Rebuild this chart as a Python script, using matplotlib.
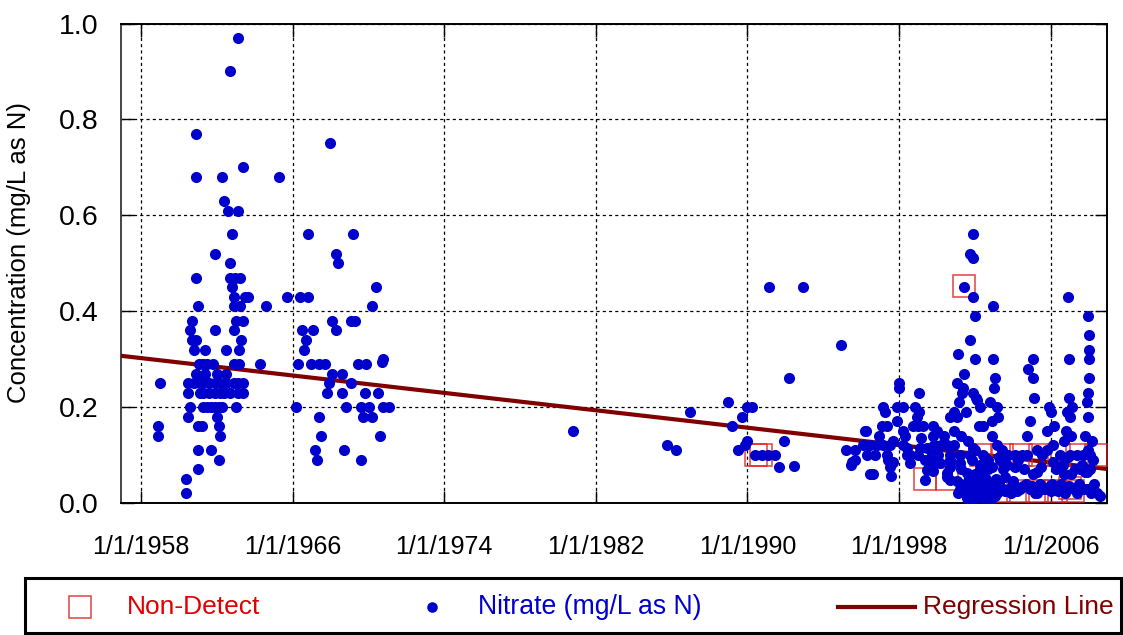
import matplotlib
matplotlib.use('Agg')
import matplotlib.pyplot as plt
from matplotlib.lines import Line2D
from matplotlib.patches import Rectangle

# ---------------- data (decimal year, mg/L as N) ----------------
early_years = [
    1963.1, 1962.7, 1960.9, 1968.0, 1963.4,
    1960.9, 1962.3, 1965.3, 1962.4, 1962.6, 1963.1,
    1962.8, 1966.8, 1969.2, 1961.9, 1968.3, 1962.7, 1968.4,
    1960.9, 1962.7, 1962.95, 1963.25, 1962.8, 1970.4,
    1962.9, 1963.5, 1963.65, 1965.7, 1966.4, 1966.8,
    1961.0, 1962.9, 1963.25, 1964.6, 1970.2,
    1960.7, 1963.0, 1963.4, 1968.1, 1969.1, 1969.3,
    1960.6, 1961.9, 1962.9, 1966.5, 1967.1, 1968.3,
    1960.7, 1960.9, 1963.3, 1966.7,
    1960.8, 1961.4, 1962.5, 1963.2, 1966.6,
    1970.8, 1970.7,
    1961.05, 1961.3, 1961.5, 1961.8, 1962.9, 1963.2, 1964.3, 1966.3, 1967.0,
    1967.4, 1967.7, 1969.45, 1969.9,
    1960.9, 1961.4, 1962.0, 1962.5, 1968.1, 1968.6,
    1959.0, 1960.5, 1960.8, 1961.1, 1961.3, 1961.6, 1961.9, 1962.2, 1962.5,
    1962.9, 1963.1, 1963.4, 1967.9, 1969.1,
    1960.5, 1961.1, 1961.3, 1961.6, 1961.9, 1962.2, 1962.4, 1962.7, 1963.1,
    1963.4, 1967.8, 1968.6, 1969.8, 1970.5,
    1960.6, 1961.3, 1961.5, 1961.7, 1961.9, 1962.1, 1962.3, 1963.0, 1966.2,
    1968.8, 1969.6, 1970.05, 1970.75, 1971.1,
    1960.5, 1962.0, 1967.4, 1969.7, 1970.2,
    1958.9, 1961.0, 1961.2, 1962.1,
    1958.9, 1962.2, 1967.5, 1970.6,
    1961.0, 1961.7, 1967.2, 1968.7,
    1962.1, 1967.3, 1969.6,
    1961.0, 1960.4, 1960.4,
]
early_values = [
    0.97, 0.90, 0.77, 0.75, 0.70,
    0.68, 0.68, 0.68, 0.63, 0.61, 0.61,
    0.56, 0.56, 0.56, 0.52, 0.52, 0.50, 0.50,
    0.47, 0.47, 0.47, 0.47, 0.45, 0.45,
    0.43, 0.43, 0.43, 0.43, 0.43, 0.43,
    0.41, 0.41, 0.41, 0.41, 0.41,
    0.38, 0.38, 0.38, 0.38, 0.38, 0.38,
    0.36, 0.36, 0.36, 0.36, 0.36, 0.36,
    0.34, 0.34, 0.34, 0.34,
    0.32, 0.32, 0.32, 0.32, 0.32,
    0.30, 0.295,
    0.29, 0.29, 0.29, 0.29, 0.29, 0.29, 0.29, 0.29, 0.29,
    0.29, 0.29, 0.29, 0.29,
    0.27, 0.27, 0.27, 0.27, 0.27, 0.27,
    0.25, 0.25, 0.25, 0.25, 0.25, 0.25, 0.25, 0.25, 0.25,
    0.25, 0.25, 0.25, 0.25, 0.25,
    0.23, 0.23, 0.23, 0.23, 0.23, 0.23, 0.23, 0.23, 0.23,
    0.23, 0.23, 0.23, 0.23, 0.23,
    0.20, 0.20, 0.20, 0.20, 0.20, 0.20, 0.20, 0.20, 0.20,
    0.20, 0.20, 0.20, 0.20, 0.20,
    0.18, 0.18, 0.18, 0.18, 0.18,
    0.16, 0.16, 0.16, 0.16,
    0.14, 0.14, 0.14, 0.14,
    0.11, 0.11, 0.11, 0.11,
    0.09, 0.09, 0.09,
    0.07, 0.05, 0.02,
]

mid_years = [
    1980.81, 1985.77, 1986.25, 1986.98,
    1988.97, 1989.97, 1990.24, 1989.73, 1989.2, 1989.97, 1989.5, 1989.88,
    1990.4, 1990.77, 1991.1, 1991.46, 1991.96, 1991.68, 1992.48,
    1991.17, 1992.96, 1994.95, 1992.19,
    1995.2, 1995.7, 1995.46, 1996.25,
]
mid_values = [
    0.15, 0.12, 0.11, 0.19,
    0.21, 0.20, 0.20, 0.18, 0.16, 0.13, 0.11, 0.12,
    0.10, 0.10, 0.10, 0.10, 0.13, 0.075, 0.077,
    0.45, 0.45, 0.33, 0.26,
    0.11, 0.09, 0.08, 0.15,
]

late_years = [
    # upper scatter
    2001.93, 2001.76, 2001.9, 2001.44, 2001.93, 2002.99, 2002.02, 2006.94, 2008.0,
    2008.05, 2001.76, 2001.14, 2002.02, 2001.46, 1998.01, 1998.0, 2001.09, 1999.07,
    2001.32, 2001.93, 2001.16, 2001.4, 2002.06, 2002.95, 2003.05, 2003.0, 2004.8,
    2005.05, 2005.1, 2005.15, 2006.95, 2006.95, 2008.05, 2008.05, 2008.05, 2008.0,
    2007.95,
    # middle band
    1997.18, 1997.89, 1998.19, 1998.86, 1997.26, 1998.94, 1999.08, 2000.88, 2001.53,
    1997.89, 2000.7, 2001.06, 1999.03, 1999.29, 1998.76, 1997.1, 1997.36, 1996.22,
    1998.2, 1999.8, 2000.0, 2000.4, 2000.9, 2001.3, 1996.97, 1997.7, 1998.33,
    1999.16, 1999.8, 2001.67,
    2002.11, 2002.28, 2002.81, 2003.17, 2005.93, 2006.0, 2006.86, 2007.12, 2007.03,
    2007.97, 2002.9, 2003.25, 2004.94, 2002.2, 2002.46, 2005.8, 2006.19, 2006.81,
    2002.9, 2004.77, 2006.73, 2007.09, 2007.83, 2008.18,
    # lower band
    1996.13, 1996.48, 1996.83, 1997.18, 1997.53, 1998.24, 1998.42, 1999.12, 1999.47,
    1999.84, 2000.2, 2000.55, 2000.9, 2001.93,
    1995.69, 1996.3, 1996.74, 1997.36, 1998.42, 1998.6, 1999.03, 1999.74, 2000.08,
    2000.7, 2001.23, 2001.76,
    1995.51, 1997.45, 1997.63, 1998.59, 1999.38, 1999.82, 2000.17, 2000.7,
    2001.23, 2001.85,
    2002.02, 2002.46, 2003.17, 2003.43, 2003.78, 2004.13, 2004.49, 2004.75, 2005.28,
    2005.54, 2005.8, 2006.15, 2006.5, 2007.03, 2007.39, 2008.0, 2008.26,
    2002.7, 2003.3, 2004.3, 2006.9, 2007.7, 2008.1,
    2002.28, 2002.72, 2003.34, 2003.7, 2004.13, 2005.1, 2006.15, 2006.68, 2007.3,
    2007.65, 2007.92,
    2001.3, 2001.7, 2002.45, 2002.9, 2003.1, 2003.6, 2004.6, 2005.5, 2006.3, 2007.1,
    # low values
    1997.53, 1997.71, 1999.47, 1999.82, 2000.7, 2000.53, 1996.48, 1996.62, 1997.57,
    1999.38, 2000.53, 2000.7, 2001.06, 2001.58, 2001.23, 2001.49, 2001.58, 2001.85,
    2002.11, 2002.02, 2002.2,
    2002.0, 2002.1, 2002.3, 2002.4, 2002.5, 2002.6, 2002.7, 2002.8, 2002.3,
    2003.51, 2005.28, 2006.7, 2007.56, 2007.83, 2008.09,
    2002.11, 2002.46, 2002.81, 2003.17, 2003.51, 2004.22, 2004.57, 2004.92, 2005.28,
    2005.63, 2005.98, 2006.42, 2006.86, 2007.39, 2007.74, 2008.44,
    2003.8, 2003.95, 2001.9, 2008.3, 2006.1, 2004.0,
    2001.1, 2001.3, 2001.7, 2002.05, 2002.25, 2002.55, 2002.9, 2003.05, 2003.3,
    2003.6, 2003.9, 2004.1, 2004.4, 2004.7, 2005.0, 2005.2, 2005.45, 2005.75,
    2006.0, 2006.25, 2006.55, 2006.75, 2007.0, 2007.25, 2007.5, 2007.9, 2008.15,
    2008.6,
]
late_values = [
    0.56, 0.52, 0.51, 0.45, 0.43, 0.41, 0.39, 0.43, 0.39,
    0.35, 0.34, 0.31, 0.30, 0.27, 0.25, 0.24, 0.25, 0.23,
    0.23, 0.23, 0.21, 0.24, 0.22, 0.30, 0.26, 0.24, 0.28,
    0.30, 0.26, 0.22, 0.30, 0.22, 0.32, 0.30, 0.26, 0.23,
    0.21,
    0.20, 0.20, 0.20, 0.20, 0.19, 0.18, 0.19, 0.19, 0.19,
    0.17, 0.18, 0.18, 0.16, 0.16, 0.16, 0.16, 0.16, 0.15,
    0.15, 0.16, 0.15, 0.14, 0.15, 0.14, 0.14, 0.13, 0.14,
    0.135, 0.14, 0.13,
    0.215, 0.20, 0.21, 0.20, 0.20, 0.19, 0.19, 0.20, 0.18,
    0.18, 0.17, 0.18, 0.17, 0.16, 0.16, 0.15, 0.16, 0.15,
    0.14, 0.14, 0.13, 0.14, 0.14, 0.13,
    0.12, 0.12, 0.12, 0.12, 0.12, 0.12, 0.115, 0.115, 0.115,
    0.12, 0.12, 0.12, 0.12, 0.115,
    0.11, 0.10, 0.10, 0.10, 0.10, 0.10, 0.10, 0.10, 0.10,
    0.10, 0.10, 0.10,
    0.086, 0.09, 0.083, 0.083, 0.09, 0.086, 0.084, 0.09,
    0.083, 0.09,
    0.11, 0.10, 0.12, 0.11, 0.10, 0.10, 0.10, 0.10, 0.11,
    0.10, 0.11, 0.12, 0.10, 0.10, 0.10, 0.11, 0.09,
    0.09, 0.095, 0.09, 0.095, 0.10, 0.10,
    0.08, 0.07, 0.09, 0.08, 0.075, 0.06, 0.085, 0.08, 0.07,
    0.08, 0.065,
    0.07, 0.05, 0.06, 0.075, 0.05, 0.055, 0.07, 0.075, 0.07, 0.06,
    0.076, 0.086, 0.069, 0.066, 0.076, 0.062, 0.06, 0.06, 0.057,
    0.048, 0.055, 0.048, 0.045, 0.062, 0.03, 0.029, 0.01, 0.017,
    0.055, 0.034, 0.02,
    0.06, 0.045, 0.02, 0.01, 0.04, 0.05, 0.02, 0.005, 0.07,
    0.07, 0.065, 0.06, 0.07, 0.065, 0.07,
    0.03, 0.025, 0.035, 0.02, 0.03, 0.025, 0.035, 0.03, 0.02,
    0.03, 0.035, 0.025, 0.03, 0.02, 0.03, 0.02,
    0.03, 0.035, 0.005, 0.04, 0.04, 0.045,
    0.02, 0.04, 0.03, 0.015, 0.045, 0.03, 0.04, 0.015, 0.04,
    0.025, 0.02, 0.035, 0.03, 0.04, 0.035, 0.02, 0.04, 0.03,
    0.025, 0.035, 0.04, 0.02, 0.035, 0.03, 0.04, 0.03, 0.02,
    0.015,
]

nondetect_years = [1990.45, 1990.7, 2001.44, 1999.38, 2000.52,
                   2002.32, 2003.46, 2004.43, 2005.45, 2006.46, 2007.42, 2008.39,
                   2002.2, 2003.3, 2004.3, 2005.3, 2006.3, 2007.03, 2007.2]
nondetect_values = [0.10, 0.10, 0.452, 0.05, 0.05,
                    0.10, 0.10, 0.10, 0.10, 0.10, 0.10, 0.10,
                    0.024, 0.024, 0.024, 0.024, 0.024, 0.032, 0.024]

regression_years = [1956.95, 2008.98]
regression_values = [0.307, 0.071]

tick_years = [1958, 1966, 1974, 1982, 1990, 1998, 2006]
tick_labels = ['1/1/1958', '1/1/1966', '1/1/1974', '1/1/1982',
               '1/1/1990', '1/1/1998', '1/1/2006']
y_ticks = [0.0, 0.2, 0.4, 0.6, 0.8, 1.0]

# ---------------- styling ----------------
plt.rcParams['font.family'] = ['Liberation Sans', 'DejaVu Sans']
BLUE = '#0000cc'
RED = '#e02020'
DARKRED = '#800000'

W, H = 1123, 635
fig = plt.figure(figsize=(W / 100, H / 100), dpi=100)
ax = fig.add_axes([121 / W, 1 - 503 / H, (1107 - 121) / W, (503 - 23.5) / H])

ax.plot(regression_years, regression_values, color=DARKRED, lw=3.0, zorder=3,
        solid_capstyle='butt')
ax.plot(nondetect_years, nondetect_values, linestyle='none', marker='s', ms=15.6,
        mfc='none', mec=RED, mew=1.1, alpha=0.85, zorder=4)
all_years = early_years + mid_years + late_years
all_values = early_values + mid_values + late_values
ax.plot(all_years, all_values, linestyle='none', marker='o', ms=8.0,
        mfc=BLUE, mec=BLUE, mew=0, zorder=5)

ax.set_xlim(1956.95, 2008.98)
ax.set_ylim(0, 1.0)
ax.set_xticks(tick_years)
ax.set_xticklabels(tick_labels)
ax.set_yticks(y_ticks)
ax.set_yticklabels([f'{v:.1f}' for v in y_ticks])
ax.grid(True, color='black', linestyle=(0, (2.5, 2.5)), linewidth=0.9, zorder=0)
ax.set_axisbelow(True)
ax.tick_params(axis='both', direction='in', length=9, width=1.0, top=True, right=True,
               color='black')
ax.tick_params(axis='x', labelsize=18, pad=23)
ax.tick_params(axis='y', labelsize=20.5, pad=16)
for s in ax.spines.values():
    s.set_linewidth(1.4)
    s.set_color('black')
ax.spines['left'].set_color('#444444')
ax.set_ylabel('Concentration (mg/L as N)', fontsize=18.5)
ax.yaxis.set_label_coords((31 - 121) / (1107 - 121), 0.523)


def fx(px):
    return px / W


def fy(py):
    return 1 - py / H


# ---------------- legend ----------------
fig.add_artist(Rectangle((fx(25), fy(633)), fx(1121) - fx(25), fy(578) - fy(633),
                         transform=fig.transFigure, facecolor='white',
                         edgecolor='black', lw=2.2))
ly = fy(607)
fig.add_artist(Line2D([fx(80)], [ly], transform=fig.transFigure, marker='s', ms=15.6,
                      mfc='none', mec=RED, mew=1.1, alpha=0.85, linestyle='none'))
fig.text(fx(127), ly, 'Non-Detect', color='#e00000', fontsize=19, va='center', ha='left')
fig.add_artist(Line2D([fx(432)], [ly], transform=fig.transFigure, marker='o', ms=7.6,
                      mfc=BLUE, mec=BLUE, mew=0, linestyle='none'))
fig.text(fx(478), ly, 'Nitrate (mg/L as N)', color=BLUE, fontsize=19.2, va='center',
         ha='left')
fig.add_artist(Line2D([fx(838), fx(915)], [ly, ly], transform=fig.transFigure,
                      color=DARKRED, lw=3.0))
fig.text(fx(923), ly, 'Regression Line', color=DARKRED, fontsize=19, va='center',
         ha='left')

fig.savefig('out.png', dpi=100)
